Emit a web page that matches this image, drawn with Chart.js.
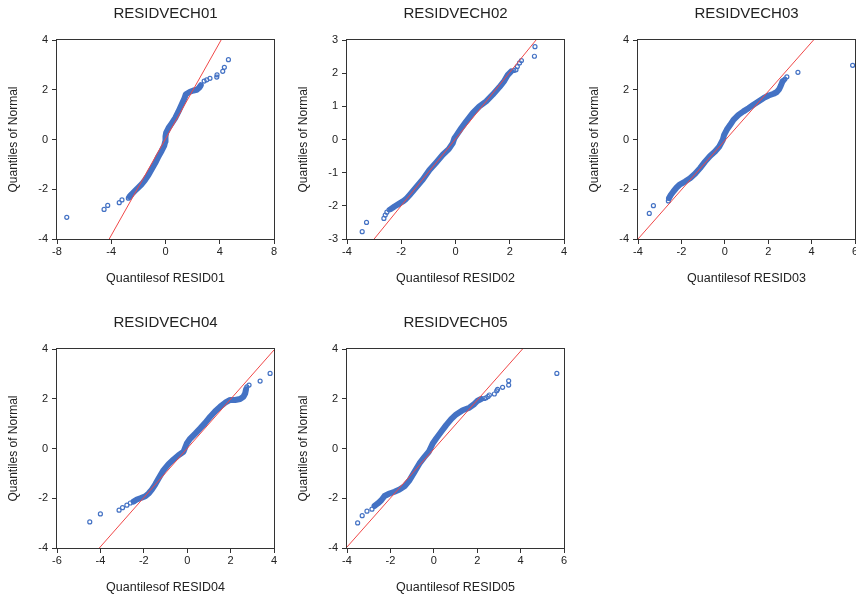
<!DOCTYPE html>
<html>
<head>
<meta charset="utf-8">
<script src="https://cdn.jsdelivr.net/npm/chart.js@4.4.1/dist/chart.umd.min.js"></script>
<style>
  html, body { margin: 0; padding: 0; background: #fff; overflow: hidden; }
  body { width: 856px; height: 596px; position: relative; }
  canvas { position: absolute; }
</style>
</head>
<body>
<canvas id="c1" width="284" height="286"></canvas>
<canvas id="c2" width="284" height="286"></canvas>
<canvas id="c3" width="284" height="286"></canvas>
<canvas id="c4" width="284" height="286"></canvas>
<canvas id="c5" width="284" height="286"></canvas>
<script>
// titles and axis labels
const titles = ["RESIDVECH01", "RESIDVECH02", "RESIDVECH03", "RESIDVECH04", "RESIDVECH05"];
const xTitles = ["Quantilesof RESID01", "Quantilesof RESID02", "Quantilesof RESID03", "Quantilesof RESID04", "Quantilesof RESID05"];
const yTitle = "Quantiles of Normal";

// tick labels
const xTicks = [[-8, -4, 0, 4, 8], [-4, -2, 0, 2, 4], [-4, -2, 0, 2, 4, 6], [-6, -4, -2, 0, 2, 4], [-4, -2, 0, 2, 4, 6]];
const yTicks = [[-4, -2, 0, 2, 4], [-3, -2, -1, 0, 1, 2, 3], [-4, -2, 0, 2, 4], [-4, -2, 0, 2, 4], [-4, -2, 0, 2, 4]];

// reference lines (x, y)
const refLines = [
  [[-4.15, -4], [4.10, 4]],
  [[-3.0, -3], [2.97, 3]],
  [[-4.0, -4], [4.09, 4]],
  [[-4.05, -4], [4.0, 3.96]],
  [[-4.0, -3.96], [4.09, 4]]
];

// dense middle part of each Q-Q plot (quantile of resid, quantile of normal)
const band01 = [[-2.65,-2.30],[-2.48,-2.19],[-2.23,-2.05],[-1.99,-1.92],[-1.74,-1.79],[-1.50,-1.62],[-1.25,-1.42],[-1.01,-1.19],[-0.76,-0.95],[-0.52,-0.68],[-0.27,-0.44],[-0.10,-0.26],[-0.02,-0.08],[0.00,0.12],[0.05,0.28],[0.22,0.46],[0.47,0.66],[0.71,0.86],[0.96,1.13],[1.20,1.42],[1.40,1.66],[1.50,1.82],[1.81,1.92],[2.06,1.97],[2.31,2.00],[2.48,2.08],[2.60,2.18]];
const band02 = [[-2.39,-2.10],[-2.25,-2.02],[-2.09,-1.94],[-1.91,-1.85],[-1.82,-1.79],[-1.69,-1.67],[-1.45,-1.44],[-1.20,-1.20],[-0.96,-0.92],[-0.71,-0.69],[-0.47,-0.46],[-0.25,-0.29],[-0.10,-0.11],[-0.04,0.04],[0.02,0.11],[0.21,0.34],[0.39,0.54],[0.64,0.80],[0.88,1.00],[1.13,1.15],[1.37,1.35],[1.62,1.58],[1.80,1.77],[1.93,1.95],[2.05,2.05]];
const band03 = [[-2.57,-2.36],[-2.49,-2.23],[-2.37,-2.09],[-2.22,-1.93],[-2.06,-1.80],[-1.83,-1.69],[-1.60,-1.56],[-1.37,-1.38],[-1.14,-1.15],[-0.91,-0.89],[-0.68,-0.66],[-0.45,-0.48],[-0.25,-0.28],[-0.09,-0.01],[-0.03,0.19],[0.09,0.39],[0.25,0.59],[0.40,0.79],[0.63,0.99],[0.86,1.13],[1.09,1.26],[1.32,1.40],[1.55,1.53],[1.78,1.66],[2.02,1.77],[2.25,1.84],[2.40,1.91],[2.51,2.03],[2.58,2.16],[2.66,2.34]];
const band04 = [[-2.47,-2.13],[-2.32,-2.05],[-2.16,-2.00],[-1.93,-1.92],[-1.78,-1.81],[-1.63,-1.65],[-1.47,-1.44],[-1.32,-1.21],[-1.09,-0.87],[-0.86,-0.63],[-0.63,-0.44],[-0.40,-0.27],[-0.17,-0.13],[-0.08,0.07],[-0.02,0.20],[0.14,0.40],[0.37,0.60],[0.60,0.81],[0.83,1.03],[1.06,1.28],[1.29,1.50],[1.52,1.68],[1.75,1.84],[1.98,1.95],[2.21,1.95],[2.44,1.99],[2.59,2.08],[2.67,2.21],[2.71,2.38]];
const band05 = [[-2.73,-2.31],[-2.58,-2.21],[-2.42,-2.08],[-2.27,-1.91],[-2.04,-1.81],[-1.81,-1.74],[-1.58,-1.65],[-1.35,-1.52],[-1.12,-1.28],[-0.89,-0.94],[-0.66,-0.60],[-0.43,-0.34],[-0.23,-0.13],[-0.12,0.07],[-0.05,0.20],[0.11,0.40],[0.34,0.67],[0.57,0.94],[0.80,1.18],[1.03,1.37],[1.33,1.54],[1.64,1.64],[1.87,1.79],[2.02,1.92],[2.18,1.99]];

// sparse points in the tails
const tail01 = [[-7.28,-3.13],[-4.53,-2.81],[-4.26,-2.65],[-3.41,-2.54],[-3.21,-2.43],[-2.74,-2.36],[-2.62,-2.27],[2.54,2.12],[2.85,2.35],[3.04,2.40],[3.28,2.46],[3.78,2.51],[3.80,2.60],[4.22,2.74],[4.34,2.90],[4.64,3.21]];
const tail02 = [[-3.44,-2.78],[-3.28,-2.50],[-2.64,-2.38],[-2.59,-2.28],[-2.53,-2.19],[-2.45,-2.12],[2.15,2.08],[2.23,2.10],[2.28,2.20],[2.36,2.31],[2.43,2.38],[2.91,2.51],[2.93,2.80]];
const tail03 = [[-3.48,-2.97],[-3.29,-2.66],[-2.60,-2.47],[-2.57,-2.36],[2.72,2.38],[2.77,2.43],[2.86,2.52],[3.37,2.70],[5.89,2.98]];
const tail04 = [[-4.49,-2.95],[-4.00,-2.63],[-3.14,-2.48],[-2.98,-2.38],[-2.78,-2.28],[-2.62,-2.19],[-2.47,-2.13],[2.75,2.48],[2.85,2.55],[3.36,2.71],[3.82,3.02]];
const tail05 = [[-3.51,-2.99],[-3.30,-2.70],[-3.08,-2.52],[-2.85,-2.44],[-2.73,-2.31],[2.33,2.01],[2.41,2.04],[2.50,2.09],[2.56,2.15],[2.79,2.19],[2.90,2.32],[2.94,2.38],[3.17,2.46],[3.45,2.55],[3.45,2.72],[5.67,3.02]];

const bands = [band01, band02, band03, band04, band05];
const tails = [tail01, tail02, tail03, tail04, tail05];

// canvas placement (left, top)
const panelPos = [[0, 0], [290, 0], [581, 0], [0, 309], [290, 309]];

Chart.defaults.font.family = "'Liberation Sans', Arial, sans-serif";
Chart.defaults.color = "#222";

const blue = "#4472c4";
const red = "#f04848";
const toXY = arr => arr.map(p => ({ x: p[0], y: p[1] }));

// plot box around the chart area
const framePlugin = {
  id: "frame",
  afterDatasetsDraw(chart) {
    const { ctx, chartArea: a } = chart;
    ctx.save();
    ctx.strokeStyle = "#333";
    ctx.lineWidth = 1;
    ctx.strokeRect(a.left - 0.5, a.top - 0.5, a.right - a.left + 1, a.bottom - a.top + 1);
    ctx.restore();
  }
};

function axisOpts(ticks, vertical, title) {
  return {
    type: "linear",
    min: ticks[0],
    max: ticks[ticks.length - 1],
    afterBuildTicks: s => { s.ticks = ticks.map(v => ({ value: v })); },
    afterFit: s => { if (vertical) s.width = 57; else s.height = 47; },
    grid: { drawOnChartArea: false, drawTicks: true, tickLength: 5, color: "#333" },
    border: { display: false },
    ticks: { font: { size: 11 }, padding: vertical ? 4 : 1, maxRotation: 0, autoSkip: false },
    title: {
      display: true,
      text: title,
      font: { size: vertical ? 12 : 12.5 },
      padding: vertical ? { top: 6, bottom: 0 } : { top: 0, bottom: 0 }
    }
  };
}

titles.forEach((t, i) => {
  const cv = document.getElementById("c" + (i + 1));
  cv.style.left = panelPos[i][0] + "px";
  cv.style.top = panelPos[i][1] + "px";
  new Chart(cv, {
    type: "scatter",
    data: {
      datasets: [
        {
          data: toXY(refLines[i]),
          showLine: true,
          borderColor: red,
          borderWidth: 1,
          pointRadius: 0
        },
        {
          data: toXY(tails[i]),
          pointRadius: 2,
          pointBorderWidth: 1.2,
          pointBorderColor: blue,
          pointBackgroundColor: "rgba(255,255,255,0)"
        },
        {
          data: toXY(bands[i]),
          showLine: true,
          borderColor: blue,
          borderWidth: 6,
          borderCapStyle: "round",
          borderJoinStyle: "round",
          pointRadius: 0
        }
      ]
    },
    options: {
      responsive: false,
      animation: false,
      layout: { padding: { left: 0, right: 10, top: 0, bottom: 0 } },
      plugins: {
        legend: { display: false },
        tooltip: { enabled: false },
        title: {
          display: true,
          text: t,
          fullSize: false,
          font: { size: 15, weight: "normal" },
          color: "#222",
          padding: { top: 5, bottom: 17 }
        }
      },
      scales: {
        x: axisOpts(xTicks[i], false, xTitles[i]),
        y: axisOpts(yTicks[i], true, yTitle)
      }
    },
    plugins: [framePlugin]
  });
});
</script>
</body>
</html>
